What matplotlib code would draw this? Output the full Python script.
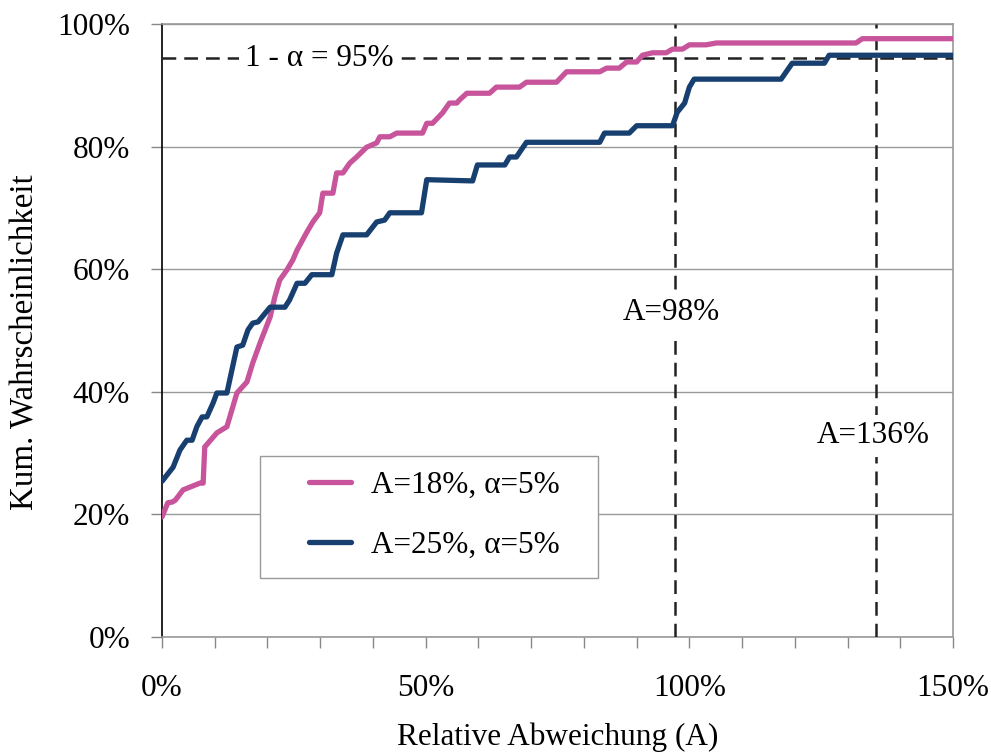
import matplotlib
matplotlib.use("Agg")
import matplotlib.pyplot as plt
from matplotlib.patches import Rectangle
from matplotlib.ticker import FuncFormatter, MultipleLocator

# relative Abweichung in %, kumulierte Wahrscheinlichkeit in %
a18_x = [0.0, 1.1, 1.9, 2.5, 4.0, 7.2, 7.8, 8.1, 10.4, 12.3, 14.2, 16.1, 17.2, 18.6,
         20.5, 21.4, 22.3, 23.7, 24.8, 25.6, 27.5, 28.6, 29.9, 30.5, 32.4, 33.1, 34.3,
         35.6, 36.9, 38.8, 40.7, 41.3, 43.2, 44.5, 49.4, 50.2, 51.3, 53.2, 54.5, 55.9,
         56.4, 57.8, 62.1, 63.4, 67.8, 69.1, 74.8, 76.7, 83.0, 84.3, 86.7, 88.1, 90.0,
         91.1, 93.0, 95.6, 96.8, 98.7, 100.0, 103.2, 105.1, 131.6, 132.8, 150.0]
a18_y = [19.6, 21.9, 22.0, 22.3, 24.0, 25.1, 25.1, 31.0, 33.3, 34.3, 39.8, 41.6, 44.7, 48.0,
         52.2, 55.5, 58.2, 59.9, 61.5, 63.1, 66.1, 67.7, 69.2, 72.4, 72.4, 75.7, 75.7,
         77.3, 78.3, 79.9, 80.6, 81.6, 81.6, 82.2, 82.2, 83.8, 83.8, 85.5, 87.1, 87.1,
         87.6, 88.7, 88.7, 89.7, 89.7, 90.5, 90.5, 92.2, 92.2, 92.8, 92.8, 93.8, 93.8,
         94.9, 95.3, 95.3, 95.9, 95.9, 96.6, 96.6, 96.9, 96.9, 97.6, 97.6]

a25_x = [0.0, 2.1, 3.4, 4.7, 5.7, 6.6, 7.6, 8.5, 9.7, 10.4, 12.3, 14.2, 15.3, 16.3, 17.2,
         18.2, 20.5, 23.3, 24.2, 25.6, 27.1, 28.4, 32.2, 33.1, 34.3, 38.8, 40.7, 42.2,
         43.2, 49.2, 50.2, 58.9, 59.8, 65.0, 65.9, 67.2, 69.1, 83.0, 83.9, 88.6, 90.0,
         96.8, 97.7, 99.1, 100.0, 100.9, 117.4, 119.5, 125.6, 126.5, 150.0]
a25_y = [25.4, 27.7, 30.5, 32.1, 32.1, 34.3, 35.9, 35.9, 38.2, 39.8, 39.8, 47.3, 47.6, 50.1, 51.2,
         51.4, 53.8, 53.8, 55.0, 57.7, 57.7, 59.1, 59.1, 62.6, 65.6, 65.6, 67.7, 68.0,
         69.2, 69.2, 74.6, 74.4, 77.0, 77.0, 78.3, 78.3, 80.7, 80.7, 82.2, 82.2, 83.4,
         83.4, 85.6, 87.1, 89.7, 91.0, 91.0, 93.6, 93.6, 94.9, 94.9]

labels = ["A=18%, α=5%", "A=25%, α=5%"]
conf_level = 94.4
a_marks = [97.3, 135.4]
a_texts = ["A=98%", "A=136%"]

plt.rcParams['font.family'] = ['Liberation Serif', 'DejaVu Serif']
plt.rcParams['font.size'] = 22.5

fig = plt.figure(figsize=(9.91, 7.54), dpi=100)
ax = fig.add_axes([0.1635, 0.1552, 0.7982, 0.8130])

ax.plot(a18_x, a18_y, color='#C8559B', lw=3.8, label=labels[0], solid_capstyle='round',
        solid_joinstyle='round', zorder=4)
ax.plot(a25_x, a25_y, color='#173F6F', lw=3.8, label=labels[1], solid_capstyle='round',
        solid_joinstyle='round', zorder=4)

ax.axhline(conf_level, color='#222222', lw=1.8, dashes=(5.5, 3.2), zorder=3)
for xm in a_marks:
    ax.axvline(xm, color='#222222', lw=1.8, dashes=(5.5, 3.2), zorder=3)

box = dict(facecolor='white', edgecolor='none', pad=5)
ax.text(29.9, conf_level, "1 - α = 95%", ha='center', va='center', zorder=5, bbox=box)
ax.text(96.6, 52.9, a_texts[0], ha='center', va='center', zorder=5, bbox=box)
ax.text(134.8, 32.8, a_texts[1], ha='center', va='center', zorder=5, bbox=box)

ax.set_xlim(0, 150)
ax.set_ylim(0, 100)
ax.xaxis.set_major_locator(MultipleLocator(10))
ax.xaxis.set_major_formatter(FuncFormatter(lambda v, p: "%d%%" % v if v % 50 == 0 else ""))
ax.yaxis.set_major_locator(MultipleLocator(20))
ax.yaxis.set_major_formatter(FuncFormatter(lambda v, p: "%d%%" % v))
ax.tick_params(axis='x', direction='out', length=8, width=1, color='#888888', pad=19)
ax.tick_params(axis='y', direction='out', length=8, width=1, color='#888888', pad=15)

ax.grid(axis='y', color='#999999', lw=1)
ax.set_axisbelow(True)
for s in ['top', 'right', 'bottom']:
    ax.spines[s].set_color('#999999')
    ax.spines[s].set_linewidth(1.2)
ax.spines['left'].set_color('black')
ax.spines['left'].set_linewidth(1.2)

ax.set_xlabel("Relative Abweichung (A)", labelpad=14)
fig.text(25 / 991, 1 - 342 / 754, "Kum. Wahrscheinlichkeit", rotation=90,
         ha='center', va='center', fontsize=23.8)

# legend frame drawn separately (the original has a wide left margin)
ax.add_patch(Rectangle((0.1239, 0.0962), 0.4273, 0.1991, transform=ax.transAxes,
                       facecolor='white', edgecolor='#999999', lw=1, zorder=6))
leg = ax.legend(loc='center left', bbox_to_anchor=(0.1858, 0.198), frameon=False,
                handlelength=1.33, handletextpad=0.64, labelspacing=1.0,
                borderpad=0, borderaxespad=0)
leg.set_zorder(7)

fig.savefig("out.png", dpi=100)
